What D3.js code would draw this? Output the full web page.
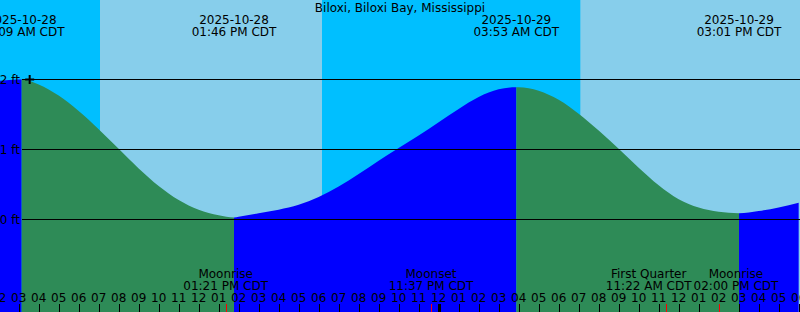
<!DOCTYPE html>
<html>
<head>
<meta charset="utf-8">
<script src="https://cdn.jsdelivr.net/npm/d3@7"></script>
<style>
  body { margin: 0; background: #fff; }
  svg { display: block; font-family: "DejaVu Sans", sans-serif; font-size: 12px; }
</style>
</head>
<body>
<svg id="chart"></svg>
<script>
const width = 800;
const height = 312;

// Station and time window shown
const stationName = "Biloxi, Biloxi Bay, Mississippi";
const viewStart = "2025-10-28 02:04";
const viewEnd = "2025-10-29 18:04";

// Hourly predictions (ft), starting at 2025-10-28 02:00
const hourlyStart = "2025-10-28 02:00";
const hourlyFeet = [
  1.98, 2.00, 1.93, 1.77, 1.55, 1.29, 1.01, 0.73, 0.48, 0.28,
  0.14, 0.06, 0.04, 0.09, 0.14, 0.21, 0.32, 0.47, 0.65, 0.84,
  1.02, 1.20, 1.39, 1.58, 1.75, 1.86, 1.89, 1.84, 1.71, 1.51,
  1.27, 1.01, 0.74, 0.49, 0.29, 0.17, 0.11, 0.09, 0.12, 0.17,
  0.24
];

// High / low tides
const tideTimes = ["2025-10-28 03:09", "2025-10-28 13:46", "2025-10-29 03:53", "2025-10-29 15:01"];
const tideFeet = [2.00, 0.03, 1.89, 0.09];
const tideTypes = ["H", "L", "H", "L"];

// Sun
const sunTimes = ["2025-10-28 07:04", "2025-10-28 18:10", "2025-10-29 07:05"];
const sunTypes = ["rise", "set", "rise"];

// Moon events
const moonTimes = ["2025-10-28 13:21", "2025-10-28 23:37", "2025-10-29 11:22", "2025-10-29 14:00"];
const moonNames = ["Moonrise", "Moonset", "First Quarter", "Moonrise"];

// Current time marker
const nowTime = "2025-10-28 03:33";
const nowFeet = 2.0;

const yTicks = [0, 1, 2];

const parse = d3.timeParse("%Y-%m-%d %H:%M");
const fmtDate = d3.timeFormat("%Y-%m-%d");
const fmtTime = d3.timeFormat("%I:%M %p CDT");
const fmtHour = d3.timeFormat("%I");

const x = d3.scaleTime()
  .domain([parse(viewStart), parse(viewEnd)])
  .range([0, width]);

const y = d3.scaleLinear()
  .domain([0, 2])
  .range([219.5, 79.5]);

const svg = d3.select("#chart")
  .attr("width", width)
  .attr("height", height)
  .attr("viewBox", [0, 0, width, height]);

// Night background, daytime bands on top
svg.append("rect")
  .attr("width", width).attr("height", height)
  .attr("fill", "#00bfff");

const sun = sunTimes.map((t, i) => ({ t: parse(t), type: sunTypes[i] }));
const days = [];
sun.forEach((s, i) => {
  if (s.type !== "rise") return;
  const set = sun.slice(i + 1).find(d => d.type === "set");
  days.push([s.t, set ? set.t : x.domain()[1]]);
});
svg.append("g").selectAll("rect")
  .data(days)
  .join("rect")
  .attr("x", d => x(d[0]))
  .attr("width", d => x(d[1]) - x(d[0]))
  .attr("y", 0)
  .attr("height", height)
  .attr("fill", "#87ceeb");

// Tide curve: hourly points plus the highs and lows
const h0 = parse(hourlyStart);
const tides = tideTimes.map((t, i) => ({ t: parse(t), v: tideFeet[i], type: tideTypes[i] }));
const points = hourlyFeet.map((v, i) => ({ t: d3.timeHour.offset(h0, i), v }))
  .concat(tides.map(d => ({ t: d.t, v: d.v })))
  .sort((a, b) => a.t - b.t);

const area = d3.area()
  .curve(d3.curveMonotoneX)
  .x(d => x(d.t))
  .y0(height)
  .y1(d => y(d.v));

// Split into rising (blue) and falling (green) pieces at each high/low
const cuts = [x.domain()[0], ...tides.map(d => d.t), x.domain()[1]];
const pieces = d3.pairs(cuts).map(([a, b], i) => {
  const next = tides[i];
  const rising = next ? next.type === "H" : tides[tides.length - 1].type === "L";
  return { a, b, rising };
});

const defs = svg.append("defs");
pieces.forEach((p, i) => {
  defs.append("clipPath").attr("id", "clip" + i)
    .append("rect")
    .attr("x", x(p.a)).attr("width", x(p.b) - x(p.a))
    .attr("y", 0).attr("height", height);
  svg.append("path")
    .datum(points)
    .attr("clip-path", `url(#clip${i})`)
    .attr("fill", p.rising ? "#0000ff" : "#2e8b57")
    .attr("d", area);
});

// Grid lines and foot labels
svg.append("g").selectAll("line")
  .data(yTicks)
  .join("line")
  .attr("x1", 22).attr("x2", width)
  .attr("y1", d => y(d)).attr("y2", d => y(d))
  .attr("stroke", "#000");

svg.append("g").selectAll("text")
  .data(yTicks)
  .join("text")
  .attr("x", 20)
  .attr("y", d => y(d) + 4)
  .attr("text-anchor", "end")
  .text(d => d + " ft");

// Now marker
const nx = x(parse(nowTime)), ny = y(nowFeet);
svg.append("path")
  .attr("d", `M${nx - 4.5},${ny}h9M${nx},${ny - 4.5}v9`)
  .attr("stroke", "#000")
  .attr("stroke-width", 2);

// Title
svg.append("text")
  .attr("x", width / 2).attr("y", 11.5)
  .attr("text-anchor", "middle")
  .text(stationName);

// High / low labels at top
const tideLabels = svg.append("g").selectAll("text")
  .data(tides)
  .join("text")
  .attr("text-anchor", "middle");
tideLabels.append("tspan").attr("x", d => x(d.t)).attr("y", 24).text(d => fmtDate(d.t));
tideLabels.append("tspan").attr("x", d => x(d.t)).attr("y", 36).text(d => fmtTime(d.t));

// Hour ticks
const hours = d3.timeHour.range(d3.timeHour.floor(x.domain()[0]), x.domain()[1]);
svg.append("g").selectAll("line")
  .data(hours)
  .join("line")
  .attr("x1", d => Math.round(x(d)) + 0.5).attr("x2", d => Math.round(x(d)) + 0.5)
  .attr("y1", 304).attr("y2", height)
  .attr("stroke", "#000")
  .attr("stroke-width", d => d.getHours() === 0 ? 3 : 1);

svg.append("g").selectAll("text")
  .data(hours)
  .join("text")
  .attr("x", d => x(d))
  .attr("y", 301.5)
  .attr("text-anchor", "middle")
  .text(d => fmtHour(d));

// Moon events: red ticks and labels pushed apart when they collide
const moon = moonTimes.map((t, i) => ({ t: parse(t), name: moonNames[i] }));
svg.append("g").selectAll("line")
  .data(moon)
  .join("line")
  .attr("x1", d => Math.round(x(d.t)) + 0.5).attr("x2", d => Math.round(x(d.t)) + 0.5)
  .attr("y1", 304).attr("y2", height)
  .attr("stroke", "#ff0000");

const moonLabels = svg.append("g").selectAll("text")
  .data(moon)
  .join("text")
  .attr("text-anchor", "middle");
moonLabels.append("tspan").attr("y", 278).text(d => d.name);
moonLabels.append("tspan").attr("y", 290).text(d => fmtTime(d.t));

moonLabels.each(function(d) {
  d.w = d3.max(d3.select(this).selectAll("tspan").nodes(), n => n.getComputedTextLength());
  d.cx = x(d.t);
});
for (let k = 0; k < 10; k++) {
  for (let i = 0; i < moon.length - 1; i++) {
    const a = moon[i], b = moon[i + 1];
    const overlap = (a.cx + a.w / 2 + 2) - (b.cx - b.w / 2);
    if (overlap > 0) {
      a.cx -= overlap / 2;
      b.cx += overlap / 2;
    }
  }
}
moonLabels.selectAll("tspan").attr("x", function() {
  return d3.select(this.parentNode).datum().cx;
});
</script>
</body>
</html>
